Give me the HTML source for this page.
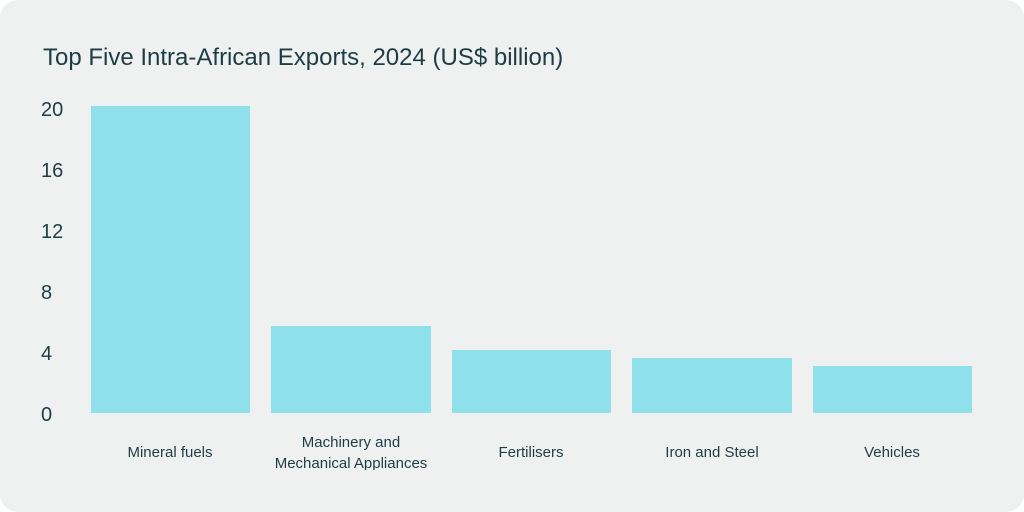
<!DOCTYPE html>
<html><head><style>
html,body{margin:0;padding:0;background:#fff;}
.card{position:absolute;left:0;top:0;width:1024px;height:512px;background:#eff1f1;border-radius:18px;overflow:hidden;font-family:"Liberation Sans",sans-serif;color:#1d3c44;}
.t{position:absolute;left:43px;top:44px;font-size:24px;white-space:nowrap;}
.y{position:absolute;left:41px;font-size:20px;}
.b{position:absolute;background:#8ee0ea;}
.l{position:absolute;font-size:15px;text-align:center;width:220px;line-height:21px;}
</style></head><body><div class="card">
<div class="t">Top Five Intra-African Exports, 2024 (US$ billion)</div>
<div class="y" style="top:99px">20</div>
<div class="y" style="top:160px">16</div>
<div class="y" style="top:221px">12</div>
<div class="y" style="top:282px">8</div>
<div class="y" style="top:343px">4</div>
<div class="y" style="top:404px">0</div>
<div class="b" style="left:91px;top:106px;width:159px;height:307px"></div>
<div class="b" style="left:271px;top:326px;width:160px;height:87px"></div>
<div class="b" style="left:452px;top:350px;width:159px;height:63px"></div>
<div class="b" style="left:632px;top:358px;width:160px;height:55px"></div>
<div class="b" style="left:813px;top:366px;width:159px;height:47px"></div>
<div class="l" style="left:60px;top:442px">Mineral fuels</div>
<div class="l" style="left:241px;top:432px;height:38px;overflow:hidden">Machinery and<br>Mechanical Appliances</div>
<div class="l" style="left:421px;top:442px">Fertilisers</div>
<div class="l" style="left:602px;top:442px">Iron and Steel</div>
<div class="l" style="left:782px;top:442px">Vehicles</div>
</div></body></html>
